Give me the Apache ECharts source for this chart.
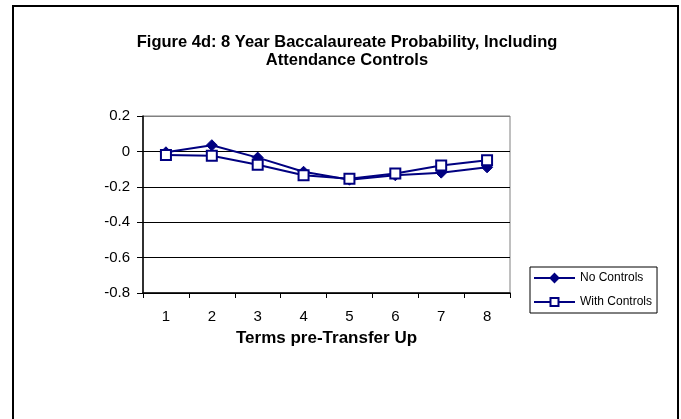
<!DOCTYPE html>
<html>
<head>
<meta charset="utf-8">
<script src="https://cdn.jsdelivr.net/npm/echarts@6/dist/echarts.min.js"></script>
<style>
  html, body { margin: 0; padding: 0; background: #fff; }
  #chart { width: 681px; height: 419px; }
</style>
</head>
<body>
<div id="chart"></div>
<script>
(function () {
    var terms = ['1', '2', '3', '4', '5', '6', '7', '8'];
    var noControls = [-0.005, 0.035, -0.035, -0.115, -0.16, -0.135, -0.12, -0.09];
    var withControls = [-0.02, -0.025, -0.075, -0.135, -0.155, -0.125, -0.08, -0.05];
    var yTicks = [-0.8, -0.6, -0.4, -0.2, 0, 0.2];

    var font = "'Liberation Sans', Arial, sans-serif";
    var navy = '#000080';

    var myChart = echarts.init(document.getElementById('chart'));

    var option = {
        backgroundColor: '#ffffff',
        animation: false,
        graphic: [{
            type: 'rect',
            shape: { x: 13, y: 6, width: 665, height: 430 },
            style: { fill: 'none', stroke: '#000', lineWidth: 2 },
            silent: true
        }],
        title: {
            text: 'Figure 4d: 8 Year Baccalaureate Probability, Including\nAttendance Controls',
            left: 347,
            top: 33,
            textAlign: 'center',
            padding: 0,
            textStyle: {
                fontFamily: font,
                fontSize: 16.5,
                fontWeight: 'bold',
                color: '#000',
                lineHeight: 18
            }
        },
        legend: {
            orient: 'vertical',
            left: 530,
            top: 267,
            padding: [5, 5, 5, 3],
            itemGap: 12,
            itemWidth: 41,
            itemHeight: 10,
            borderColor: '#000',
            borderWidth: 1,
            textStyle: { fontFamily: font, fontSize: 12, color: '#000' },
            data: ['No Controls', 'With Controls']
        },
        grid: {
            left: 143,
            right: 171,
            top: 116,
            bottom: 126,
            show: true,
            borderColor: '#808080',
            borderWidth: 1
        },
        xAxis: {
            type: 'category',
            data: terms,
            boundaryGap: true,
            name: 'Terms pre-Transfer Up',
            nameLocation: 'middle',
            nameGap: 37,
            nameTextStyle: { fontFamily: font, fontSize: 17, fontWeight: 'bold', color: '#000' },
            axisLine: { onZero: false, lineStyle: { color: '#000', width: 1.5 } },
            axisTick: { show: true, alignWithLabel: false, length: 5, lineStyle: { color: '#000' } },
            axisLabel: { fontFamily: font, fontSize: 15, color: '#000', margin: 16 }
        },
        yAxis: {
            type: 'value',
            min: yTicks[0],
            max: yTicks[yTicks.length - 1],
            interval: 0.2,
            axisLine: { show: true, lineStyle: { color: '#000', width: 1.5 } },
            axisTick: { show: true, inside: false, length: 6, lineStyle: { color: '#000' } },
            axisLabel: {
                fontFamily: font, fontSize: 15, color: '#000', margin: 13,
                formatter: function (v) { return String(Math.round(v * 10) / 10); }
            },
            splitLine: {
                show: true,
                lineStyle: { color: ['#000', '#000', '#000', '#000', '#000', '#808080'], width: 1 }
            }
        },
        series: [
            {
                name: 'No Controls',
                type: 'line',
                data: noControls,
                symbol: 'diamond',
                symbolSize: 11,
                lineStyle: { color: navy, width: 2 },
                itemStyle: { color: navy, borderColor: navy, borderWidth: 1 }
            },
            {
                name: 'With Controls',
                type: 'line',
                data: withControls,
                symbol: 'rect',
                symbolSize: 10,
                lineStyle: { color: navy, width: 2 },
                itemStyle: { color: '#ffffff', borderColor: navy, borderWidth: 2 }
            }
        ]
    };

    myChart.setOption(option);
    window.addEventListener('resize', function () {
        myChart.resize();
    });
})();
</script>
</body>
</html>
